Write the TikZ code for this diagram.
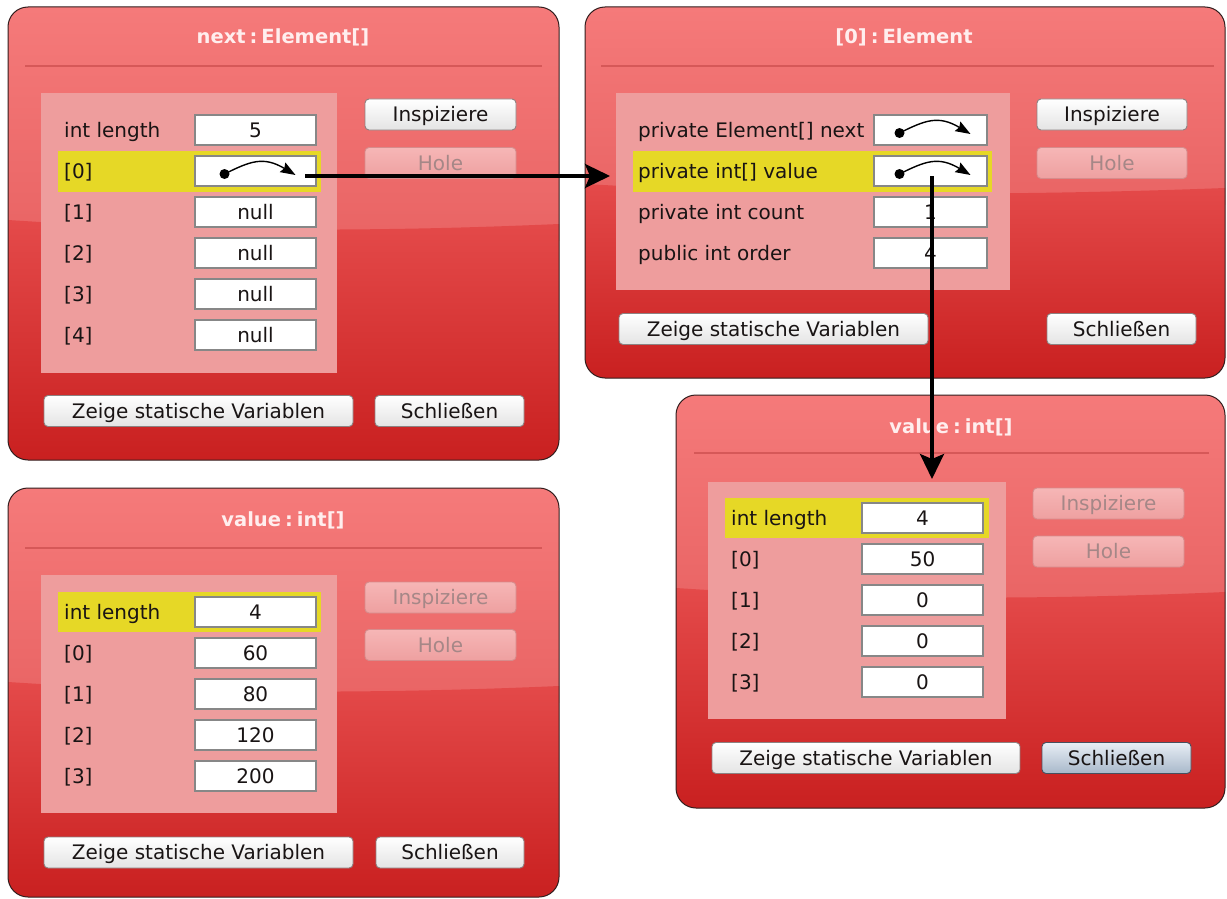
\documentclass[tikz,border=0pt]{standalone}
\usepackage{fontspec}
\setmainfont{DejaVu Sans}
\usetikzlibrary{arrows.meta}
\definecolor{wtop}{RGB}{245,122,122}
\definecolor{wmid}{RGB}{233,100,100}
\definecolor{wlow}{RGB}{228,74,74}
\definecolor{wbot}{RGB}{201,32,32}
\definecolor{wborder}{RGB}{50,30,30}
\definecolor{panelc}{RGB}{238,157,157}
\definecolor{sepc}{RGB}{214,88,88}
\definecolor{hilite}{RGB}{230,216,38}
\definecolor{boxborder}{RGB}{135,135,135}
\definecolor{txt}{RGB}{25,20,20}
\definecolor{titlec}{RGB}{255,238,238}
\definecolor{btntop}{RGB}{255,255,255}
\definecolor{btnbot}{RGB}{228,228,228}
\definecolor{btnborder}{RGB}{140,130,130}
\definecolor{distop}{RGB}{246,182,182}
\definecolor{disbot}{RGB}{238,160,160}
\definecolor{disborder}{RGB}{214,140,140}
\definecolor{distxt}{RGB}{165,135,135}
\definecolor{deftop}{RGB}{232,238,245}
\definecolor{defbot}{RGB}{168,184,202}
\definecolor{defborder}{RGB}{70,80,95}

\newcommand\mywin[5]{%
  \begin{scope}
    \clip[rounded corners=20pt] (#1,#2) rectangle (#3,#4);
    \shade[top color=wtop, bottom color=wmid] (#1,#2) rectangle ({#3},{#5+20});
    \shade[top color=wlow, bottom color=wbot] (#1,#5)
      .. controls ({0.67*#1+0.33*#3},{#5+12}) and ({0.33*#1+0.67*#3},{#5+12}) .. ({#3},{#5+4})
      -- (#3,#4) -- (#1,#4) -- cycle;
  \end{scope}
  \draw[wborder, line width=1pt, rounded corners=20pt] (#1,#2) rectangle (#3,#4);
}
\newcommand\myptr[2]{%
  \fill[black] ({#1-31},{#2+3}) circle (5pt);
  \draw[black, line width=1.4pt, -{Stealth[length=15pt,width=11pt,inset=2pt]}]
    ({#1-31},{#2+3}) .. controls ({#1-5},{#2-10}) and ({#1+8},{#2-15}) .. ({#1+40},{#2+4});
}
\newcommand\tsp{\hspace{4pt}}

\begin{document}
\begin{tikzpicture}[x=1pt,y=-1pt,
  every node/.style={font=\fontsize{20}{24}\selectfont, text=txt},
  lbl/.style={anchor=west, inner sep=0pt, text height=14pt, text depth=0pt},
  valbox/.style={draw=boxborder, fill=white, line width=1.2pt, minimum height=30pt,
    inner sep=0pt, text height=14pt, text depth=0pt},
  wtitle/.style={font=\fontsize{19.5}{23}\selectfont\bfseries, text=titlec, inner sep=0pt,
    text height=14pt, text depth=0pt},
  btn/.style={draw=btnborder, line width=0.9pt, rounded corners=4pt, top color=btntop,
    bottom color=btnbot, minimum height=31pt, inner sep=0pt, text height=14pt, text depth=0pt},
  btnoff/.style={btn, draw=disborder, top color=distop, bottom color=disbot, text=distxt},
  btndef/.style={btn, draw=defborder, top color=deftop, bottom color=defbot},
  panel/.style={fill=panelc},
  sep/.style={draw=sepc, line width=1.3pt},
  bigarrow/.style={draw=black, line width=3.2pt,
    -{Stealth[length=25pt,width=24pt,inset=5pt]}}
]
\useasboundingbox (0,0) rectangle (1227,899);
\fill[white] (0,0) rectangle (1227,899);

% ================= Window 1: next : Element[] =================
\mywin{8}{7}{559}{460}{220}
\node[wtitle] (t1) at (283,37) {next\tsp:\tsp Element[]};
\draw[sep] (25,66) -- (542,66);
\fill[panel] (41,93) rectangle (337,373);
\fill[hilite] (58,151) rectangle (321,192);
\node[lbl] (w1l0) at (64,130) {int length};
\node[lbl] (w1l1) at (64,171) {[0]};
\node[lbl] (w1l2) at (64,212) {[1]};
\node[lbl] (w1l3) at (64,253) {[2]};
\node[lbl] (w1l4) at (64,294) {[3]};
\node[lbl] (w1l5) at (64,335) {[4]};
\node[valbox, minimum width=121pt] (w1v0) at (255.5,130) {5};
\node[valbox, minimum width=121pt] (w1v1) at (255.5,171) {};
\node[valbox, minimum width=121pt] (w1v2) at (255.5,212) {null};
\node[valbox, minimum width=121pt] (w1v3) at (255.5,253) {null};
\node[valbox, minimum width=121pt] (w1v4) at (255.5,294) {null};
\node[valbox, minimum width=121pt] (w1v5) at (255.5,335) {null};
\myptr{255.5}{171}
\node[btn, minimum width=151pt] (w1b1) at (440.5,114.5) {Inspiziere};
\node[btnoff, minimum width=151pt] (w1b2) at (440.5,163) {Hole};
\node[btn, minimum width=309pt] (w1b3) at (198.5,411) {Zeige statische Variablen};
\node[btn, minimum width=149pt] (w1b4) at (449.5,411) {Schließen};

% ================= Window 2: [0] : Element =================
\mywin{585}{7}{1225}{378}{184}
\node[wtitle] (t2) at (904,37) {[0]\tsp:\tsp Element};
\draw[sep] (601,66) -- (1214,66);
\fill[panel] (616,93) rectangle (1010,290);
\fill[hilite] (633,151) rectangle (992,192);
\node[lbl] (w2l0) at (638,130) {private Element[] next};
\node[lbl] (w2l1) at (638,171) {private int[] value};
\node[lbl] (w2l2) at (638,212) {private int count};
\node[lbl] (w2l3) at (638,253) {public int order};
\node[valbox, minimum width=113pt] (w2v0) at (930.5,130) {};
\node[valbox, minimum width=113pt] (w2v1) at (930.5,171) {};
\node[valbox, minimum width=113pt] (w2v2) at (930.5,212) {1};
\node[valbox, minimum width=113pt] (w2v3) at (930.5,253) {4};
\myptr{930.5}{130}
\myptr{930.5}{171}
\node[btn, minimum width=150pt] (w2b1) at (1112,114.5) {Inspiziere};
\node[btnoff, minimum width=150pt] (w2b2) at (1112,163) {Hole};
\node[btn, minimum width=309pt] (w2b3) at (773.5,329) {Zeige statische Variablen};
\node[btn, minimum width=149pt] (w2b4) at (1121.5,329) {Schließen};

% ================= Window 3: value : int[] (right) =================
\mywin{676}{395}{1225}{808}{588}
\node[wtitle] (t3) at (951,426) {value\tsp:\tsp int[]};
\draw[sep] (694,453) -- (1209,453);
\fill[panel] (708,482) rectangle (1006,719);
\fill[hilite] (725,498) rectangle (989,538);
\node[lbl] (w3l0) at (731,518) {int length};
\node[lbl] (w3l1) at (731,559) {[0]};
\node[lbl] (w3l2) at (731,600) {[1]};
\node[lbl] (w3l3) at (731,641) {[2]};
\node[lbl] (w3l4) at (731,682) {[3]};
\node[valbox, minimum width=121pt] (w3v0) at (922.5,518) {4};
\node[valbox, minimum width=121pt] (w3v1) at (922.5,559) {50};
\node[valbox, minimum width=121pt] (w3v2) at (922.5,600) {0};
\node[valbox, minimum width=121pt] (w3v3) at (922.5,641) {0};
\node[valbox, minimum width=121pt] (w3v4) at (922.5,682) {0};
\node[btnoff, minimum width=151pt] (w3b1) at (1108.5,503.5) {Inspiziere};
\node[btnoff, minimum width=151pt] (w3b2) at (1108.5,551.5) {Hole};
\node[btn, minimum width=308pt] (w3b3) at (866,758) {Zeige statische Variablen};
\node[btndef, minimum width=149pt] (w3b4) at (1116.5,758) {Schließen};

% ================= Window 4: value : int[] (bottom left) =================
\mywin{8}{488}{559}{897}{682}
\node[wtitle] (t4) at (283,519) {value\tsp:\tsp int[]};
\draw[sep] (25,548) -- (542,548);
\fill[panel] (41,575) rectangle (337,813);
\fill[hilite] (58,592) rectangle (321,632);
\node[lbl] (w4l0) at (64,612) {int length};
\node[lbl] (w4l1) at (64,653) {[0]};
\node[lbl] (w4l2) at (64,694) {[1]};
\node[lbl] (w4l3) at (64,735) {[2]};
\node[lbl] (w4l4) at (64,776) {[3]};
\node[valbox, minimum width=121pt] (w4v0) at (255.5,612) {4};
\node[valbox, minimum width=121pt] (w4v1) at (255.5,653) {60};
\node[valbox, minimum width=121pt] (w4v2) at (255.5,694) {80};
\node[valbox, minimum width=121pt] (w4v3) at (255.5,735) {120};
\node[valbox, minimum width=121pt] (w4v4) at (255.5,776) {200};
\node[btnoff, minimum width=151pt] (w4b1) at (440.5,597.5) {Inspiziere};
\node[btnoff, minimum width=151pt] (w4b2) at (440.5,645) {Hole};
\node[btn, minimum width=309pt] (w4b3) at (198.5,852.5) {Zeige statische Variablen};
\node[btn, minimum width=148pt] (w4b4) at (450,852.5) {Schließen};

% ================= Connectors =================
\coordinate (a1s) at (305,176);
\coordinate (a1e) at (610,176);
\coordinate (a2s) at (932,176);
\coordinate (a2e) at (932,479);
\draw[bigarrow] (a1s) -- (a1e);
\draw[bigarrow] (a2s) -- (a2e);
\end{tikzpicture}
\end{document}
